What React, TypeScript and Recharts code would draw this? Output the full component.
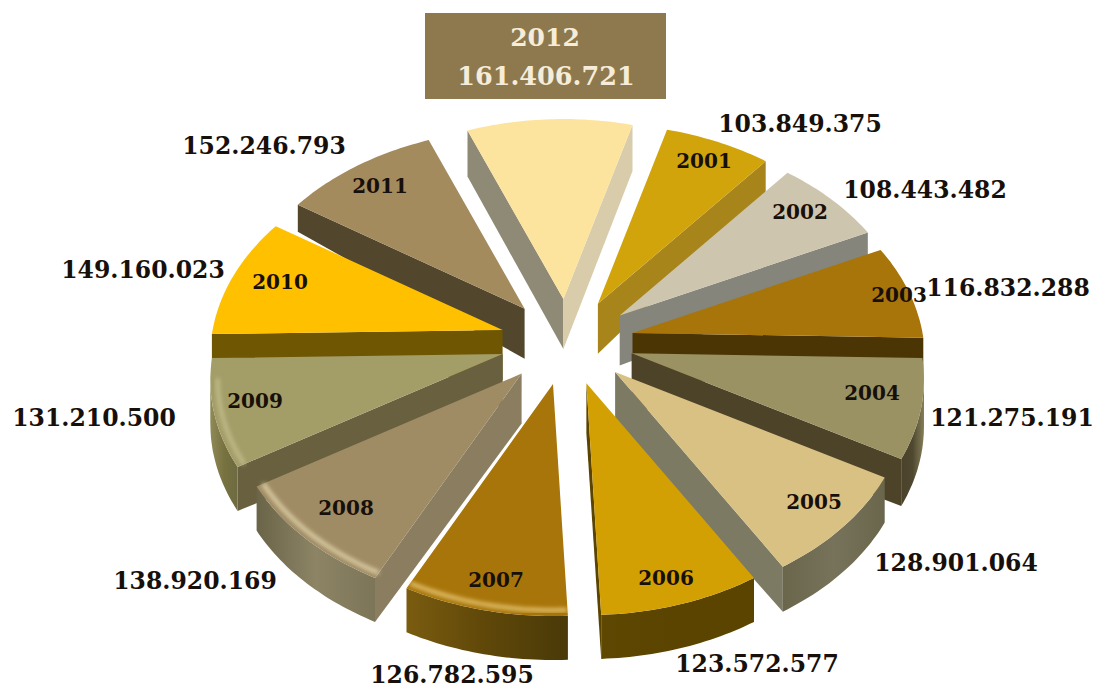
import React from 'react';
import { PieChart, Pie } from 'recharts';

const years = [2001, 2002, 2003, 2004, 2005, 2006, 2007, 2008, 2009, 2010, 2011, 2012];
const totals = [
  103849375, 108443482, 116832288, 121275191, 128901064, 123572577,
  126782595, 138920169, 131210500, 149160023, 152246793, 161406721,
];

const topColors = [
  '#d2a40c', '#cec5ae', '#a8750a', '#9a9263', '#d9c184', '#d3a003',
  '#a8750a', '#a08c64', '#a39d68', '#ffc000', '#a38b5e', '#fde49e',
];
const wallColors = [
  '#a8851a', '#85857b', '#4b3505', '#4d4329', '#7c7a63', '#5b4400',
  '#5b4308', '#8b7d60', '#68603f', '#6e5603', '#52462c', '#8f8a76',
];
const farWallColors = [
  '#c49a10', '#85857b', '#4b3505', '#4d4329', '#7c7a63', '#5b4400',
  '#5b4308', '#8b7d60', '#68603f', '#6e5603', '#52462c', '#d8ccab',
];
// Rim shading, left to right across the visible curve
const rimLeftColors = [
  '#a8851a', '#85857b', '#4b3505', '#4a4229', '#6a664c', '#5e4701',
  '#7a5c10', '#6a6448', '#8f8a58', '#6e5603', '#52462c', '#8f8a76',
];
const rimMidColors = [
  '#a8851a', '#85857b', '#4b3505', '#4f4830', '#77735a', '#5b4400',
  '#5f4709', '#8c8465', '#77723f', '#6e5603', '#52462c', '#8f8a76',
];
const rimRightColors = [
  '#a8851a', '#85857b', '#4b3505', '#857e58', '#6a664c', '#5b4400',
  '#4a3a08', '#7d7557', '#6e6a42', '#6e5603', '#52462c', '#8f8a76',
];
const bevelColors = ['', '', '', '', '', '', '#f5d88a', '#efe4bb', '#c9c493', '', '', ''];
const depths = [31, 40, 40, 47, 45, 44, 44, 44, 44, 30, 27, 46];

// Centre of each text, by year order
const valueLabelPos = [
  [800, 124], [925, 190], [1008, 288], [1012, 418], [956, 563], [757, 664],
  [452, 675], [195, 581], [94, 418], [143, 270], [264, 146], [546, 76],
];
const yearLabelPos = [
  [704, 161], [800, 212], [899, 295], [872, 393], [814, 502], [666, 578],
  [496, 580], [346, 508], [255, 401], [280, 282], [380, 186], [545, 37],
];

const rows = years.map((year, i) => ({ name: String(year), year, value: totals[i], idx: i }));
const rowsBackwards = [...rows].reverse();

const CENTER_X = 567;
const CENTER_Y = 342;
const RADIUS = 290;
const TILT = 0.699;
const PERSPECTIVE = 0.1262;
const EXPLODE_X = 67;
const EXPLODE_Y = 43;
const TIP_DEPTH = 50;
const START_ANGLE = 74.5;
const FONT = '"DejaVu Serif", serif';

const RAD = Math.PI / 180;
const toPath = (pts: number[][]) => 'M' + pts.map((p) => `${p[0].toFixed(1)},${p[1].toFixed(1)}`).join('L') + 'Z';
const toLine = (pts: number[][]) => 'M' + pts.map((p) => `${p[0].toFixed(1)},${p[1].toFixed(1)}`).join('L');
const formatValue = (n: number) => String(n).replace(/\B(?=(\d{3})+$)/g, '.');

// Receding circle: the far side is foreshortened, the near side is stretched
const onRim = (tip: number[], angle: number, r: number) => {
  const u = Math.cos(angle * RAD);
  const v = -Math.sin(angle * RAD);
  const s = 1 / (1 - PERSPECTIVE * v);
  return [tip[0] + r * u * s, tip[1] + r * TILT * v * s];
};

const wedge = (from: number, to: number, cx: number, cy: number, r: number) => {
  const first = Math.max(from, to);
  const last = Math.min(from, to);
  const mid = ((first + last) / 2) * RAD;
  const tip = [cx + EXPLODE_X * Math.cos(mid), cy - EXPLODE_Y * Math.sin(mid)];
  const steps = Math.ceil(first - last);
  const arc: number[][] = [];
  const inner: number[][] = [];
  for (let i = 0; i <= steps; i++) {
    const a = first - ((first - last) * i) / steps;
    arc.push(onRim(tip, a, r));
    inner.push(onRim(tip, a, r * 0.975));
  }
  return { tip, arc, inner };
};

// Radial side is visible when its outward normal points down the screen
const sideVisible = (tip: number[], corner: number[], other: number[]) => {
  let nx = -(corner[1] - tip[1]);
  let ny = corner[0] - tip[0];
  if (nx * (other[0] - tip[0]) + ny * (other[1] - tip[1]) > 0) {
    nx = -nx;
    ny = -ny;
  }
  return ny > 0;
};

const Slice = (props: any) => {
  const { startAngle, endAngle, cx, cy, outerRadius, payload, showFrom, showTo } = props;
  const row = payload?.idx !== undefined ? payload : props;
  const i: number = row.idx;
  if (i < showFrom || i > showTo) return null;

  const { tip, arc, inner } = wedge(startAngle, endAngle, cx, cy, outerRadius);
  const startCorner = arc[0];
  const endCorner = arc[arc.length - 1];
  const depth = depths[i];

  const rim: number[][] = [];
  arc.forEach((p, k) => {
    const prev = arc[k - 1];
    const next = arc[k + 1];
    if ((next && next[0] < p[0]) || (prev && prev[0] > p[0])) rim.push(p);
  });
  const rimBottom = rim.map((p) => [p[0], p[1] + depth]).reverse();

  const startSide = sideVisible(tip, startCorner, endCorner);
  const endSide = sideVisible(tip, endCorner, startCorner);
  const sidePoly = (corner: number[]) =>
    toPath([tip, corner, [corner[0], corner[1] + depth], [tip[0], tip[1] + TIP_DEPTH]]);
  const isLatest = i === years.length - 1;
  const textColor = '#17100a';

  return (
    <g>
      <defs>
        <linearGradient id={`rim-${i}`} x1="0" y1="0" x2="1" y2="0">
          <stop offset="0" stopColor={rimLeftColors[i]} />
          <stop offset="0.5" stopColor={rimMidColors[i]} />
          <stop offset="1" stopColor={rimRightColors[i]} />
        </linearGradient>
        <filter id={`soft-${i}`} x="-10%" y="-10%" width="120%" height="120%">
          <feGaussianBlur stdDeviation="2.2" />
        </filter>
      </defs>
      {startSide && <path d={sidePoly(startCorner)} fill={wallColors[i]} />}
      {endSide && <path d={sidePoly(endCorner)} fill={startSide ? farWallColors[i] : wallColors[i]} />}
      {rim.length > 1 && <path d={toPath([...rim, ...rimBottom])} fill={`url(#rim-${i})`} />}
      <path d={toPath([tip, ...arc])} fill={topColors[i]} />
      {bevelColors[i] && rim.length > 1 && (
        <path
          d={toLine(inner.filter((_, k) => rim.includes(arc[k])))}
          fill="none"
          stroke={bevelColors[i]}
          strokeWidth={4}
          strokeOpacity={0.8}
          filter={`url(#soft-${i})`}
        />
      )}
      {isLatest && <rect x={425} y={13} width={241} height={86} fill="#8e794e" />}
      <text
        x={yearLabelPos[i][0]}
        y={yearLabelPos[i][1]}
        textAnchor="middle"
        dominantBaseline="central"
        fontFamily={FONT}
        fontWeight={700}
        fontSize={isLatest ? 25 : 20}
        fill={isLatest ? '#f5ecd9' : textColor}
      >
        {row.name}
      </text>
      <text
        x={valueLabelPos[i][0]}
        y={valueLabelPos[i][1]}
        textAnchor="middle"
        dominantBaseline="central"
        fontFamily={FONT}
        fontWeight={700}
        fontSize={isLatest ? 25.5 : 23.5}
        fill={isLatest ? '#f5ecd9' : textColor}
      >
        {formatValue(row.value)}
      </text>
    </g>
  );
};

export default function App() {
  // Two sweeps from the same edge so slices are painted back to front on both sides
  const leftSide = (p: any) => <Slice {...p} showFrom={6} showTo={11} />;
  const rightSide = (p: any) => <Slice {...p} showFrom={0} showTo={5} />;
  return (
    <div style={{ position: 'absolute', left: 0, top: 0, width: 1097, height: 689, background: '#fff' }}>
      <PieChart width={1097} height={689} margin={{ top: 0, right: 0, bottom: 0, left: 0 }}>
        <Pie
          data={rowsBackwards}
          dataKey="value"
          nameKey="name"
          cx={CENTER_X}
          cy={CENTER_Y}
          innerRadius={0}
          outerRadius={RADIUS}
          startAngle={START_ANGLE}
          endAngle={START_ANGLE + 360}
          paddingAngle={0}
          isAnimationActive={false}
          shape={leftSide}
          activeShape={leftSide}
          inactiveShape={leftSide}
          label={false}
          labelLine={false}
        />
        <Pie
          data={rows}
          dataKey="value"
          nameKey="name"
          cx={CENTER_X}
          cy={CENTER_Y}
          innerRadius={0}
          outerRadius={RADIUS}
          startAngle={START_ANGLE}
          endAngle={START_ANGLE - 360}
          paddingAngle={0}
          isAnimationActive={false}
          shape={rightSide}
          activeShape={rightSide}
          inactiveShape={rightSide}
          label={false}
          labelLine={false}
        />
      </PieChart>
    </div>
  );
}
